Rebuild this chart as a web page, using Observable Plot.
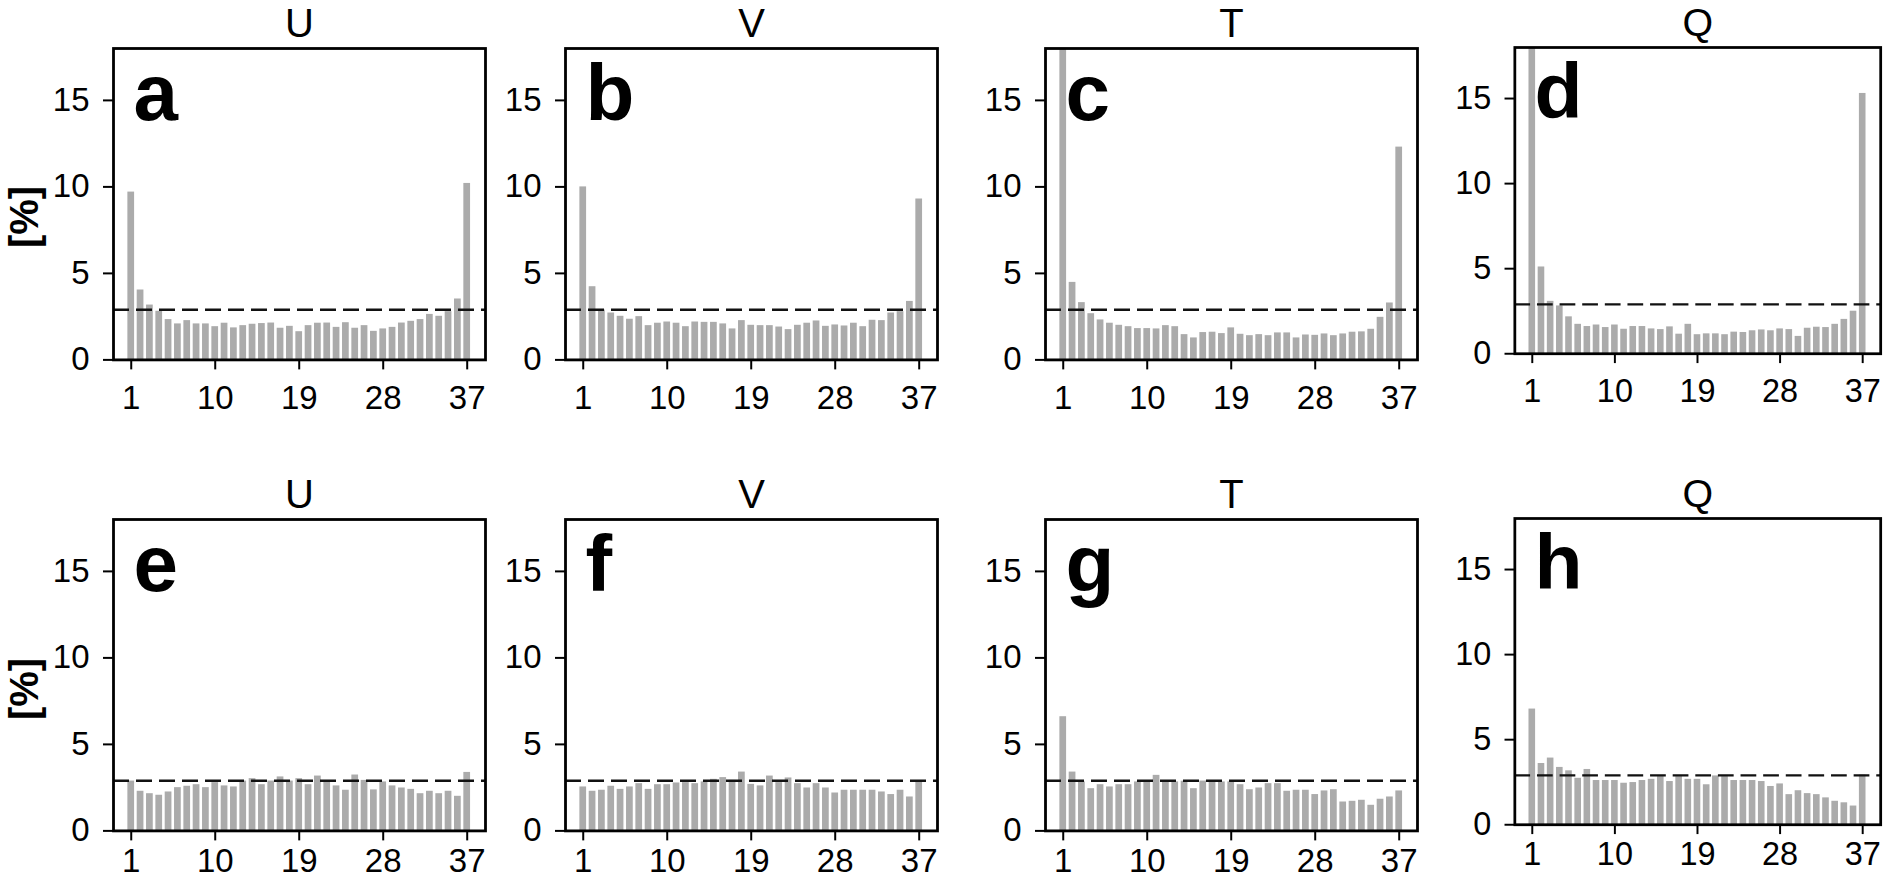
<!DOCTYPE html>
<html><head><meta charset="utf-8">
<script src="https://cdn.jsdelivr.net/npm/d3@7"></script>
<script src="https://cdn.jsdelivr.net/npm/@observablehq/plot@0.6"></script>
<style>
body{margin:0;background:#fff;}
#wrap{position:relative;width:1892px;height:881px;overflow:hidden;background:#fff;}
.panel{position:absolute;}
.ylab{position:absolute;font:bold 40px "Liberation Sans",Arial,sans-serif;transform:translate(-50%,-50%) rotate(-90deg);white-space:nowrap;color:#000;}
</style></head><body><div id="wrap"></div>
<script>
// ---- data ----
const bins = d3.range(1, 38);
const titles = ["U", "V", "T", "Q", "U", "V", "T", "Q"];
const letters = ["a", "b", "c", "d", "e", "f", "g", "h"];
const xTicks = [1, 10, 19, 28, 37];
const yTicks = [0, 5, 10, 15];
const yLabel = "[%]";
const refLevel = 2.9;

const a = [9.7,4.04,3.17,2.81,2.33,2.08,2.27,2.08,2.08,1.92,2.12,1.85,1.98,2.06,2.10,2.13,1.83,1.94,1.63,1.98,2.12,2.13,1.88,2.15,1.83,1.98,1.65,1.79,1.88,2.13,2.23,2.33,2.63,2.52,2.79,3.52,10.2];
const b = [10.0,4.23,2.88,2.71,2.52,2.35,2.50,1.98,2.12,2.19,2.12,1.92,2.19,2.17,2.17,2.08,1.79,2.27,2.00,1.98,1.98,1.90,1.75,2.00,2.12,2.25,1.94,2.02,1.96,2.12,1.92,2.29,2.27,2.71,2.79,3.38,9.3];
const c = [18,4.48,3.31,2.67,2.31,2.12,2.00,1.92,1.81,1.81,1.79,1.98,1.92,1.46,1.27,1.58,1.60,1.52,1.85,1.48,1.40,1.46,1.40,1.56,1.56,1.27,1.44,1.42,1.50,1.40,1.50,1.60,1.62,1.77,2.46,3.29,12.3];
const d = [18,5.1,3.08,2.81,2.17,1.73,1.60,1.69,1.54,1.69,1.44,1.60,1.60,1.46,1.42,1.58,1.15,1.73,1.12,1.17,1.17,1.12,1.27,1.25,1.35,1.40,1.35,1.46,1.42,1.02,1.50,1.56,1.54,1.73,2.02,2.50,15.3];
const e = [2.88,2.29,2.15,2.06,2.25,2.50,2.58,2.67,2.50,2.79,2.60,2.54,2.88,3.02,2.67,2.88,3.12,2.88,3.02,2.67,3.17,2.88,2.60,2.35,3.23,2.92,2.37,2.83,2.60,2.48,2.40,2.15,2.29,2.15,2.29,2.00,3.38];
const f = [2.54,2.29,2.35,2.58,2.40,2.54,2.73,2.40,2.67,2.67,2.77,2.79,2.73,2.83,2.98,3.08,2.92,3.40,2.69,2.60,3.17,2.79,3.06,2.73,2.48,2.73,2.48,2.19,2.35,2.35,2.35,2.35,2.25,2.10,2.35,1.96,2.83];
const g = [6.6,3.40,2.83,2.44,2.67,2.54,2.67,2.67,2.83,2.83,3.21,2.88,2.83,2.87,2.44,2.88,2.83,2.83,2.83,2.67,2.38,2.48,2.73,2.73,2.29,2.35,2.35,2.10,2.31,2.38,1.67,1.71,1.77,1.48,1.83,1.96,2.31];
const h = [6.8,3.60,3.92,3.37,3.17,2.73,3.25,2.60,2.60,2.60,2.44,2.48,2.60,2.67,2.83,2.54,2.83,2.67,2.67,2.35,2.87,2.83,2.60,2.60,2.60,2.54,2.25,2.40,1.77,2.00,1.83,1.77,1.58,1.38,1.29,1.10,2.92];
const series = [a, b, c, d, e, f, g, h];

// ---- layout ----
const colLeft = [113, 565, 1045, 1516];
const rowTop = [48, 519.4];
const FW = 372, FH = 311.4;
const ML = 100, MR = 12, MT = 60, MB = 56;
const xPad = [16, 8];
const FONT = '"Liberation Sans Narrow","Liberation Sans",Arial,sans-serif';

const wrap = document.getElementById("wrap");

series.forEach((vals, i) => {
  const row = Math.floor(i / 4), col = i % 4;
  const rows = bins.map((bin, k) => ({bin, value: vals[k]}));
  const chart = Plot.plot({
    width: ML + FW + MR, height: MT + FH + MB,
    marginLeft: ML, marginRight: MR, marginTop: MT, marginBottom: MB,
    x: {domain: [-0.9, 38.96]},
    y: {domain: [0, 18]},
    style: {background: "transparent", fontFamily: FONT, color: "#000", overflow: "visible"},
    marks: [
      Plot.rectY(rows, {x1: r => r.bin - 0.36, x2: r => r.bin + 0.36, y: "value", fill: "#ababab", clip: true}),
      Plot.ruleY([refLevel], {stroke: "#111", strokeWidth: 2.4, strokeDasharray: "16,7"}),
      Plot.frame({stroke: "#000", strokeWidth: 2.8}),
      Plot.axisY({ticks: yTicks, tickSize: 10, tickPadding: 14, fontSize: 33, strokeWidth: 2, label: null}),
      Plot.axisX({ticks: xTicks, tickSize: 10, tickPadding: xPad[row], fontSize: 33, strokeWidth: 2, label: null}),
      Plot.text([titles[i]], {text: t => t, frameAnchor: "top", dy: -24, fontSize: 40, lineAnchor: "middle", fill: "#000"}),
      Plot.text([letters[i]], {text: t => t, frameAnchor: "top-left", dx: 20, dy: 46, fontSize: 80, fontWeight: "bold", textAnchor: "start", lineAnchor: "middle", fontFamily: '"Liberation Sans",Arial,sans-serif', fill: "#000"})
    ]
  });
  const holder = document.createElement("div");
  holder.className = "panel";
  holder.style.left = (colLeft[col] - ML) + "px";
  holder.style.top = (rowTop[row] - MT) + "px";
  holder.appendChild(chart);
  wrap.appendChild(holder);
});

[217, 689].forEach(cy => {
  const lab = document.createElement("div");
  lab.className = "ylab";
  lab.style.left = "24px";
  lab.style.top = cy + "px";
  lab.textContent = yLabel;
  wrap.appendChild(lab);
});
</script>
</body></html>
